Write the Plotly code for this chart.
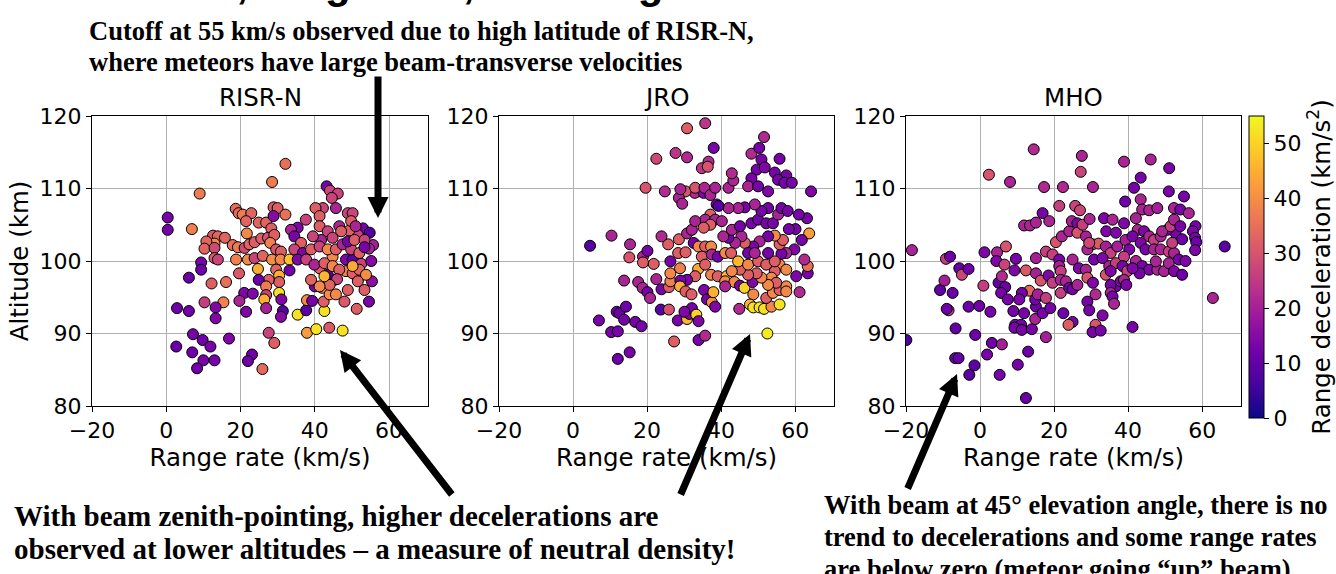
import plotly.graph_objects as go

W, H = 1336, 574

# ---------------- data ----------------
risr_rate = [32.1, 28.5, 9.0, 43.2, 44.1, 46.2, 44.6, 0.4, 0.4, 6.9, 18.7, 19.5, 20.6, 22.9, 21.5, 24.9, 26.9, 28.9, 30.0, 28.9,
             32.1, 28.3, 21.7, 12.6, 13.9, 15.8, 13.0, 10.8, 10.3, 13.0, 17.9, 19.3, 21.1, 22.4, 23.8, 25.6, 27.4, 29.1, 28.0, 29.6,
             30.9, 13.0, 13.9, 18.8, 22.0, 23.8, 26.0, 28.5, 30.8, 33.2, 9.4, 9.4, 19.6, 24.7, 29.6, 30.4, 30.4, 27.6, 24.9, 6.1,
             12.2, 16.1, 33.2, 26.9, 21.0, 23.3, 26.9, 30.4, 31.0, 26.4, 15.4, 10.3, 19.7, 21.5, 31.4, 30.9, 26.9, 35.4, 37.7, 2.9,
             6.1, 13.3, 13.3, 7.2, 9.8, 11.9, 2.7, 7.0, 10.0, 13.0, 8.3, 16.9, 23.1, 22.0, 27.6, 29.1, 25.9, 37.9, 40.4, 43.9,
             47.5, 42.6, 37.9, 39.3, 42.0, 40.0, 42.4, 44.0, 45.7, 48.0, 48.9, 51.3, 54.6, 55.4, 53.4, 51.6, 48.4, 45.3, 43.5, 39.0,
             41.3, 44.8, 48.4, 50.2, 52.5, 55.2, 55.7, 54.6, 53.0, 54.8, 51.6, 49.3, 48.9, 45.7, 42.2, 40.2, 41.3, 37.6, 35.4, 33.6,
             34.5, 41.3, 43.5, 46.6, 47.1, 44.8, 41.7, 39.5, 36.3, 34.5, 36.8, 39.0, 41.3, 43.5, 45.7, 47.5, 49.8, 52.0, 48.9, 50.7,
             53.4, 35.4, 37.7, 39.9, 42.6, 44.8, 46.6, 50.2, 52.0, 53.8, 51.6, 46.0, 44.0, 41.3, 42.6, 50.2, 50.2, 49.8, 51.0, 53.4]
risr_alt = [113.4, 110.9, 109.3, 110.3, 109.7, 109.3, 108.7, 106.0, 104.3, 104.4, 107.2, 106.6, 106.4, 106.6, 105.5, 105.3, 105.3, 107.4, 107.3, 106.2,
            106.4, 104.5, 103.8, 103.5, 103.4, 103.2, 102.4, 102.7, 101.7, 101.8, 102.2, 101.9, 101.8, 102.3, 102.6, 103.1, 103.2, 103.6, 102.5, 101.6,
            101.3, 100.4, 100.2, 100.2, 100.2, 100.4, 100.7, 100.2, 100.2, 100.2, 99.8, 98.8, 98.3, 98.9, 98.8, 98.0, 97.1, 97.4, 97.4, 97.7,
            96.9, 97.1, 98.7, 96.5, 95.6, 95.5, 95.3, 95.6, 94.7, 94.7, 94.3, 94.3, 94.5, 93.0, 93.1, 92.3, 93.5, 92.6, 93.2, 93.5,
            93.1, 93.6, 92.1, 89.9, 89.1, 88.2, 88.2, 87.4, 86.3, 86.3, 85.2, 89.3, 87.1, 86.2, 90.1, 88.7, 85.1, 90.1, 90.6, 90.8,
            90.4, 93.1, 94.6, 94.5, 96.3, 96.5, 94.4, 95.4, 95.4, 94.4, 96.0, 93.4, 94.4, 97.2, 96.0, 97.5, 98.6, 97.4, 98.1, 97.4,
            99.0, 100.6, 100.2, 100.2, 99.6, 100.0, 102.2, 101.7, 104.5, 103.9, 103.6, 104.2, 106.6, 107.3, 107.3, 107.3, 106.2, 105.7, 104.6, 104.3,
            103.4, 104.8, 104.1, 104.8, 104.1, 103.2, 102.9, 103.4, 102.5, 101.6, 101.1, 101.6, 102.0, 101.6, 101.6, 102.3, 101.6, 101.1, 102.7, 102.9,
            102.9, 100.2, 100.2, 99.5, 99.7, 99.3, 98.8, 98.3, 98.8, 98.1, 97.2, 97.5, 96.7, 96.5, 97.9, 99.3, 106.6, 105.5, 104.8, 101.9]
risr_dec = [35, 37, 37, 13, 27, 27, 27, 13, 13, 38, 34, 34, 37, 33, 33, 33, 33, 31, 32, 15,
            35, 32, 39, 31, 33, 33, 39, 33, 33, 28, 35, 37, 28, 33, 32, 32, 30, 32, 38, 30,
            32, 32, 27, 38, 39, 27, 33, 40, 39, 48, 13, 12, 31, 45, 33, 45, 32, 32, 11, 11,
            32, 35, 12, 37, 14, 14, 27, 52, 14, 45, 38, 26, 21, 14, 9, 15, 20, 52, 9, 12,
            12, 14, 14, 13, 12, 13, 11, 12, 13, 13, 12, 14, 12, 12, 27, 32, 34, 42, 52, 31,
            52, 52, 40, 13, 41, 13, 32, 40, 39, 31, 32, 32, 13, 16, 32, 40, 39, 14, 8, 33,
            32, 39, 14, 9, 27, 15, 20, 21, 13, 8, 27, 32, 27, 21, 27, 32, 32, 27, 14, 21,
            13, 32, 27, 21, 32, 27, 21, 27, 32, 27, 14, 32, 27, 39, 32, 21, 27, 32, 13, 32,
            27, 14, 27, 21, 32, 39, 32, 32, 33, 40, 32, 27, 33, 39, 46, 44, 27, 32, 21, 13]

jro_rate = [4.6, 10.4, 15.4, 15.2, 18.9, 20.1, 18.9, 21.8, 13.8, 17.6, 18.8, 20.1, 20.8, 22.5, 23.9, 25.9, 26.3, 23.7, 25.9, 7.0,
            10.3, 12.1, 11.8, 12.5, 13.8, 14.3, 16.8, 18.5, 12.1, 15.3, 27.3, 28.3, 30.8, 31.4, 32.1, 33.3, 33.9, 30.1, 33.9, 35.7,
            35.4, 36.2, 37.5, 37.9, 38.4, 33.8, 33.0, 30.8, 29.0, 28.9, 30.4, 32.0, 26.3, 28.9, 26.3, 25.7, 23.9, 28.4, 30.4, 28.6,
            30.8, 32.1, 32.6, 33.9, 35.7, 37.3, 34.8, 37.5, 39.1, 41.1, 35.7, 37.3, 39.1, 41.5, 41.1, 43.6, 41.1, 45.1, 46.3, 48.5,
            48.7, 47.8, 48.7, 44.9, 50.4, 51.6, 53.6, 55.8, 52.5, 52.2, 54.0, 55.8, 57.6, 57.6, 61.2, 63.4, 63.4, 62.5, 63.8, 63.2,
            61.0, 61.8, 60.1, 58.3, 59.8, 60.3, 57.6, 56.3, 55.8, 57.6, 54.5, 53.6, 54.9, 52.7, 50.9, 49.6, 47.3, 45.1, 42.9, 44.6,
            47.3, 50.0, 52.2, 54.5, 55.8, 56.7, 54.5, 52.7, 50.4, 48.7, 46.4, 45.5, 43.8, 42.0, 40.6, 42.7, 47.3, 49.1, 52.7, 42.9,
            45.1, 48.2, 50.0, 52.2, 54.0, 55.4, 56.3, 58.0, 52.7, 50.9, 49.1, 46.4, 44.6, 42.0, 38.8, 37.1, 35.7, 38.4, 40.2, 37.1,
            35.3, 33.0, 33.9, 32.9, 35.3, 30.4, 28.6, 29.5, 24.8, 19.6, 29.0, 33.0, 35.5, 37.1, 38.4, 42.0, 43.3, 42.9, 48.2, 51.6,
            50.3, 50.9, 55.8, 49.6, 51.8, 54.5, 57.6, 48.2, 47.3, 50.0, 52.7, 55.4, 57.1, 59.1, 64.3, 36.6, 38.0, 34.8, 36.4, 30.8,
            35.7, 27.7, 30.8, 22.5, 39.3]
jro_alt = [102.1, 103.5, 102.3, 100.5, 100.6, 101.4, 99.8, 99.6, 97.3, 97.1, 96.3, 95.7, 94.9, 97.5, 96.1, 96.4, 97.2, 93.3, 93.3, 91.8,
           90.2, 90.3, 93.0, 92.8, 91.9, 93.7, 91.6, 91.0, 86.5, 87.4, 88.9, 91.8, 92.0, 92.7, 93.5, 92.6, 91.7, 93.0, 89.1, 89.7,
           96.0, 94.7, 94.3, 95.7, 93.7, 98.9, 97.9, 97.4, 97.3, 96.5, 95.8, 95.4, 98.3, 99.0, 99.95, 102.3, 103.4, 101.1, 101.2, 103.0,
           103.8, 104.3, 102.5, 102.0, 102.0, 102.0, 100.6, 100.9, 100.6, 101.1, 99.5, 98.1, 97.9, 97.9, 97.2, 97.1, 96.5, 96.6, 96.3, 97.1,
           95.4, 94.0, 93.6, 93.4, 93.6, 93.4, 93.7, 94.0, 90.0, 94.9, 95.6, 96.0, 96.5, 95.8, 95.7, 98.3, 99.3, 100.2, 103.8, 105.9,
           106.4, 102.9, 104.4, 104.4, 101.6, 97.9, 101.1, 101.0, 99.5, 98.8, 98.6, 97.7, 97.0, 96.7, 97.7, 98.3, 98.1, 98.8, 98.6, 99.95,
           99.5, 99.95, 99.5, 99.95, 102.3, 102.9, 103.5, 103.4, 102.7, 102.0, 102.5, 103.4, 102.5, 103.2, 103.4, 101.1, 101.1, 101.1, 101.1, 104.3,
           104.8, 105.2, 105.7, 105.2, 105.2, 106.4, 107.3, 106.9, 107.3, 106.9, 107.8, 107.4, 107.3, 107.3, 107.8, 106.4, 105.7, 105.7, 105.5, 105.0,
           104.6, 105.5, 109.6, 109.4, 109.4, 109.6, 108.7, 107.9, 109.6, 110.1, 109.9, 110.1, 110.1, 109.1, 110.1, 110.1, 111.1, 112.1, 114.8, 117.1,
           115.6, 114.0, 114.1, 112.6, 112.9, 112.2, 111.8, 111.4, 110.3, 110.3, 109.6, 111.2, 110.8, 110.8, 109.6, 113.7, 115.6, 112.8, 113.0, 118.3,
           119.0, 114.9, 114.3, 114.1, 107.6]
jro_dec = [8, 21, 21, 30, 21, 13, 32, 32, 21, 21, 21, 13, 21, 21, 13, 32, 38, 8, 30, 13,
           13, 13, 13, 12, 13, 12, 13, 13, 12, 13, 32, 13, 46, 14, 13, 50, 14, 14, 13, 22,
           14, 13, 40, 45, 14, 44, 32, 13, 13, 45, 32, 32, 39, 38, 13, 32, 22, 32, 32, 32,
           21, 21, 13, 39, 32, 39, 32, 21, 13, 39, 32, 38, 32, 46, 39, 39, 21, 13, 50, 14,
           39, 46, 52, 22, 52, 52, 39, 52, 53, 32, 39, 32, 39, 39, 22, 13, 35, 22, 42, 13,
           13, 13, 13, 13, 14, 14, 22, 13, 39, 39, 32, 39, 32, 39, 39, 32, 32, 32, 39, 46,
           39, 32, 32, 32, 32, 32, 39, 13, 21, 13, 32, 21, 21, 13, 21, 32, 13, 21, 13, 21,
           13, 13, 13, 13, 13, 21, 13, 13, 13, 13, 21, 13, 21, 21, 13, 32, 21, 21, 21, 32,
           32, 21, 21, 22, 14, 30, 21, 21, 22, 30, 21, 30, 21, 21, 21, 21, 21, 22, 22, 22,
           13, 13, 13, 13, 14, 13, 13, 13, 21, 13, 14, 13, 13, 13, 14, 22, 13, 24, 30, 32,
           24, 24, 22, 28, 8]

mho_rate = [-19.9, -18.4, -10.8, -9.6, -9.2, -8.1, -8.5, -9.0, -7.4, -6.6, -6.7, -5.8, -5.6, -4.9, -3.1, -3.1, -0.2, -1.3, -2.9, -1.5,
            1.2, 0.9, 2.8, 1.9, 3.2, 2.4, 8.1, 4.6, 4.4, 6.6, 5.0, 5.9, 6.8, 5.7, 7.5, 9.0, 7.0, 9.3, 9.7, 12.4,
            13.3, 11.3, 10.6, 11.9, 9.5, 11.1, 9.3, 11.3, 14.0, 15.1, 14.9, 15.6, 14.9, 16.9, 19.0, 17.8, 17.8, 13.0, 10.2, 5.3,
            12.4, 5.9, 11.9, 13.5, 15.1, 16.9, 18.7, 14.5, 17.3, 22.4, 21.4, 15.1, 15.1, 16.4, 17.8, 18.5, 19.6, 20.5, 19.6, 21.4,
            21.4, 21.8, 21.8, 23.2, 21.8, 24.1, 25.0, 26.3, 22.5, 25.0, 23.9, 22.1, 24.1, 24.8, 26.3, 26.3, 27.7, 25.7, 27.0, 27.5,
            27.2, 30.5, 29.6, 28.6, 30.4, 32.0, 29.0, 30.8, 25.0, 26.7, 28.6, 29.0, 30.5, 29.0, 29.5, 31.2, 31.2, 30.4, 32.6, 33.1,
            33.5, 34.1, 35.8, 36.7, 34.0, 35.3, 37.1, 33.1, 34.9, 36.7, 34.0, 35.3, 36.7, 35.3, 35.3, 35.8, 36.2, 38.0, 38.9, 39.2,
            38.9, 39.3, 40.3, 38.9, 38.5, 39.8, 38.9, 39.5, 41.6, 43.4, 46.1, 51.1, 43.4, 43.8, 45.7, 47.9, 42.1, 42.6, 41.2, 43.4,
            44.3, 45.7, 47.0, 48.8, 44.7, 47.0, 48.8, 42.1, 43.8, 45.7, 43.1, 41.2, 47.9, 49.7, 51.0, 52.4, 51.0, 52.4, 53.7, 54.6,
            55.5, 52.8, 50.6, 49.2, 51.5, 52.4, 54.6, 54.1, 52.4, 54.1, 56.4, 51.0, 55.1, 58.2, 57.5, 58.1, 58.4, 58.1, 66.1, 62.9,
            41.2, 47.5, 51.9, 29.5]
mho_alt = [89.1, 101.5, 96.0, 97.3, 100.3, 100.6, 93.2, 93.4, 95.6, 90.7, 86.6, 86.6, 99.0, 98.1, 98.9, 93.7, 93.8, 89.8, 84.3, 85.6,
           101.2, 96.6, 93.0, 87.1, 88.7, 111.9, 110.9, 101.2, 100.0, 99.5, 97.0, 97.9, 96.4, 95.6, 94.7, 93.1, 102.0, 98.7, 100.3, 98.7,
           95.9, 95.6, 94.7, 92.8, 91.2, 91.2, 90.8, 90.5, 90.6, 93.7, 94.7, 95.4, 92.0, 92.8, 93.5, 94.9, 89.5, 87.5, 85.7, 84.3,
           81.1, 88.5, 104.9, 104.9, 105.3, 106.6, 105.5, 115.4, 110.2, 110.2, 107.6, 100.4, 98.3, 97.3, 101.3, 98.0, 97.0, 102.6, 100.9, 100.2,
           99.3, 98.6, 97.4, 97.2, 95.6, 96.3, 96.1, 96.7, 92.8, 91.6, 91.2, 103.4, 104.1, 105.5, 105.2, 103.9, 105.0, 107.6, 107.0, 114.5,
           112.3, 110.2, 105.8, 103.4, 102.3, 102.4, 101.6, 100.2, 100.2, 99.0, 98.8, 97.7, 97.0, 94.4, 93.2, 95.4, 91.2, 90.2, 90.4, 92.5,
           105.9, 104.1, 105.7, 103.9, 102.0, 101.1, 102.0, 100.4, 99.3, 99.7, 98.1, 98.6, 96.5, 96.7, 95.6, 95.1, 94.1, 97.2, 113.7, 108.2,
           105.2, 102.9, 101.6, 100.6, 99.3, 98.6, 97.4, 96.7, 110.1, 111.5, 114.0, 112.8, 108.5, 107.1, 107.0, 107.3, 105.9, 104.3, 103.4, 102.5,
           104.1, 103.4, 102.9, 103.4, 101.6, 101.6, 101.6, 100.0, 99.3, 98.8, 98.3, 99.0, 98.8, 98.6, 99.7, 98.6, 101.3, 101.1, 100.2, 98.1,
           100.0, 103.9, 104.3, 104.1, 104.8, 105.7, 103.0, 104.8, 107.3, 107.1, 106.6, 109.6, 108.9, 104.8, 104.1, 103.2, 102.6, 101.5, 102.0, 94.9,
           90.9, 99.95, 102.5, 102.5]
mho_dec = [7, 21, 10, 20, 26, 12, 26, 12, 11, 10, 11, 10, 11, 27, 12, 12, 12, 12, 9, 9,
           14, 26, 13, 13, 12, 30, 21, 21, 14, 27, 10, 22, 12, 13, 13, 13, 30, 14, 13, 31,
           34, 13, 14, 13, 13, 13, 13, 13, 13, 12, 13, 20, 21, 13, 13, 26, 20, 11, 13, 13,
           11, 20, 21, 21, 21, 13, 21, 22, 22, 22, 26, 20, 20, 30, 26, 14, 26, 30, 26, 13,
           20, 26, 21, 21, 26, 13, 13, 21, 12, 13, 32, 21, 21, 20, 14, 30, 26, 27, 27, 21,
           27, 21, 21, 20, 26, 31, 21, 13, 21, 14, 21, 30, 14, 13, 13, 22, 30, 13, 13, 14,
           14, 14, 21, 14, 20, 26, 20, 14, 21, 26, 30, 14, 13, 13, 21, 13, 21, 14, 21, 12,
           14, 20, 14, 26, 13, 26, 21, 14, 13, 13, 21, 13, 21, 21, 21, 20, 21, 21, 13, 14,
           14, 21, 26, 21, 13, 21, 21, 21, 13, 14, 13, 14, 21, 21, 21, 14, 26, 21, 13, 12,
           14, 13, 13, 21, 26, 21, 12, 13, 21, 13, 21, 13, 13, 13, 14, 13, 12, 14, 9, 21,
           13, 21, 26, 28]

stations = ["RISR-N", "JRO", "MHO"]
x_ticks = [-20, 0, 20, 40, 60]
y_ticks = [80, 90, 100, 110, 120]
cbar_ticks = [0, 10, 20, 30, 40, 50]

slide_title = "Altitude, range rate, and range deceleration"
top_note = ["Cutoff at 55 km/s observed due to high latitude of RISR-N,",
            "where meteors have large beam-transverse velocities"]
left_note = ["With beam zenith-pointing, higher decelerations are",
             "observed at lower altitudes – a measure of neutral density!"]
right_note = ["With beam at 45° elevation angle, there is no",
              "trend to decelerations and some range rates",
              "are below zero (meteor going “up” beam)"]

# ---------------- layout geometry (pixels) ----------------
panel_px = [(92, 428), (499, 834), (906, 1241)]
top_px, bot_px = 116, 406

def px(xp):
    return xp / W

def py(yp):
    return 1 - yp / H

FONT = "DejaVu Sans"
SERIF = "Liberation Serif"

fig = go.Figure()
data = [(risr_rate, risr_alt, risr_dec), (jro_rate, jro_alt, jro_dec), (mho_rate, mho_alt, mho_dec)]
for i, (xs, ys, cs) in enumerate(data):
    sfx = "" if i == 0 else str(i + 1)
    fig.add_trace(go.Scatter(
        x=xs, y=ys, mode="markers", xaxis="x" + sfx, yaxis="y" + sfx,
        marker=dict(color=cs, coloraxis="coloraxis", size=11,
                    line=dict(color="black", width=1)),
        showlegend=False, name=stations[i]))

layout = dict(width=W, height=H, margin=dict(l=0, r=0, t=0, b=0, autoexpand=False),
              paper_bgcolor="white", plot_bgcolor="white",
              font=dict(family=FONT, color="black"))
for i, (l, r) in enumerate(panel_px):
    sfx = "" if i == 0 else str(i + 1)
    ax_common = dict(showgrid=True, gridcolor="#b0b0b0", gridwidth=1,
                     showline=True, linecolor="black", linewidth=1, mirror=True,
                     ticks="outside", ticklen=5, tickcolor="black", zeroline=False,
                     tickfont=dict(family=FONT, size=22, color="black"), automargin=False)
    layout["xaxis" + sfx] = dict(ax_common, domain=[px(l), px(r)], range=[-20, 70.5],
                                 tickvals=x_ticks, anchor="y" + sfx,
                                 title=dict(text="Range rate (km/s)", font=dict(size=24.5), standoff=2))
    ydict = dict(ax_common, domain=[py(bot_px), py(top_px)], range=[80, 120],
                 tickvals=y_ticks, anchor="x" + sfx)
    if i == 0:
        ydict["title"] = dict(text="Altitude (km)", font=dict(size=24.5), standoff=4)
    layout["yaxis" + sfx] = ydict

layout["coloraxis"] = dict(
    colorscale="Plasma", cmin=0, cmax=55,
    colorbar=dict(x=px(1249), xanchor="left", y=py((116 + 418) / 2), yanchor="middle",
                  len=302, lenmode="pixels", thickness=15, thicknessmode="pixels",
                  outlinewidth=1, outlinecolor="black", xpad=0, ypad=0,
                  ticks="outside", ticklen=5, tickcolor="black", tickvals=cbar_ticks,
                  tickfont=dict(family=FONT, size=22),
                  title=dict(text="Range deceleration (km/s<sup>2</sup>)", side="right",
                             font=dict(family=FONT, size=24.5))))

annotations = []
for i, (l, r) in enumerate(panel_px):
    annotations.append(dict(text=stations[i], x=px((l + r) / 2), y=py(97), xref="paper", yref="paper",
                            showarrow=False, xanchor="center", yanchor="middle",
                            font=dict(family=FONT, size=24.5)))

# slide title (mostly cut off at the top of the picture)
annotations.append(dict(text="<b>" + slide_title + "</b>", x=px(79), y=py(8),
                        xref="paper", yref="paper", showarrow=False, xanchor="left", yanchor="bottom",
                        font=dict(family="Liberation Sans", size=42, color="black"), borderpad=0))

def add_lines(lines, x0, centers, size):
    for t, yc in zip(lines, centers):
        annotations.append(dict(text="<b>" + t + "</b>", x=px(x0), y=py(yc), xref="paper", yref="paper",
                                showarrow=False, xanchor="left", yanchor="middle", align="left",
                                font=dict(family=SERIF, size=size, color="black"), borderpad=0))

add_lines(top_note, 88, [31, 62], 26.5)
add_lines(left_note, 13, [516, 549], 29)
add_lines(right_note, 823, [505, 537, 569], 26.5)

arrows = [((378, 218), (378, 75)), ((340, 350), (453, 496)),
          ((750, 334), (680, 496)), ((957, 374), (907, 490))]
for (hx, hy), (tx, ty) in arrows:
    annotations.append(dict(text="", x=px(hx), y=py(hy), xref="paper", yref="paper",
                            showarrow=True, ax=tx - hx, ay=ty - hy, axref="pixel", ayref="pixel",
                            arrowhead=2, arrowsize=0.6, arrowwidth=7, arrowcolor="black", standoff=0))
layout["annotations"] = annotations

fig.update_layout(**layout)
fig.write_html("out.html", config={"displayModeBar": False},
               post_script="document.body.style.margin='0';document.body.style.overflow='hidden';")
